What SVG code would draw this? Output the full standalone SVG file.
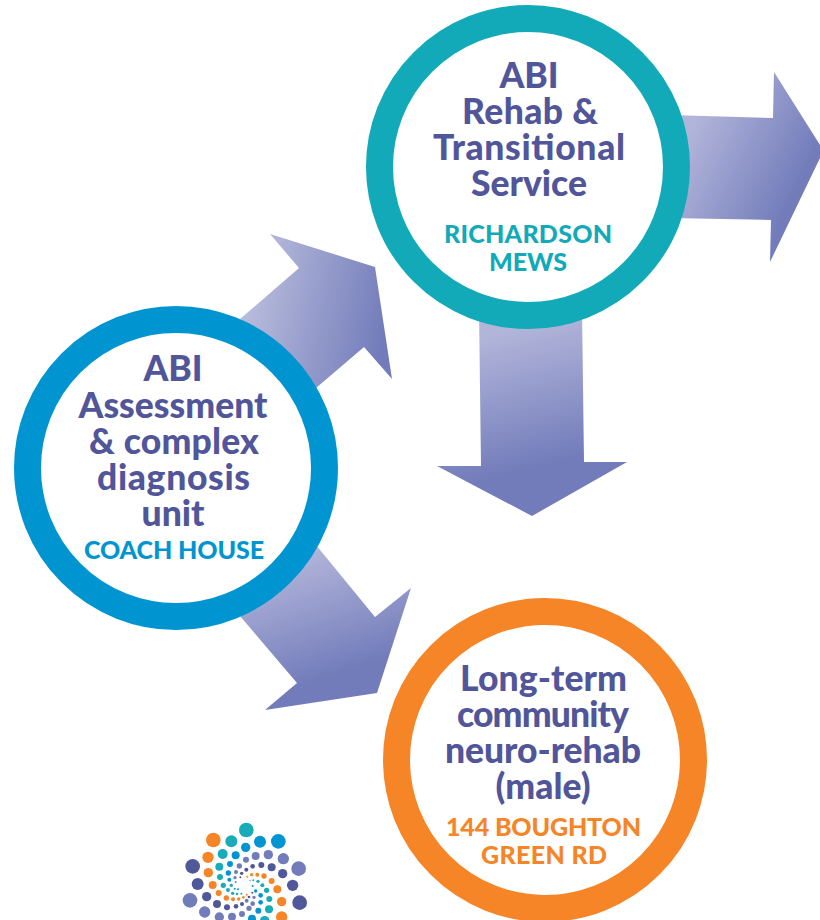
<svg xmlns="http://www.w3.org/2000/svg" width="820" height="920" viewBox="0 0 820 920">
<style>
.ring{fill:#fff;stroke-width:27}
text{font-family:"Lato","Open Sans","Liberation Sans",sans-serif;font-weight:900;text-anchor:middle}
.t{font-size:35.5px;fill:#51559a}
.s{font-size:25px}
.a{fill:#1aabb8}.b{fill:#0095d1}.o{fill:#f68528}.d{fill:#51589a}.l{fill:#727cba}
</style>
<defs>
<linearGradient id="gr" gradientUnits="userSpaceOnUse" x1="690" y1="130" x2="800" y2="185"><stop offset="0" stop-color="#b2b5da"/><stop offset="1" stop-color="#727cba"/></linearGradient>
<linearGradient id="gd" gradientUnits="userSpaceOnUse" x1="510" y1="330" x2="545" y2="465"><stop offset="0" stop-color="#b2b5da"/><stop offset="1" stop-color="#727cba"/></linearGradient>
<linearGradient id="gu" gradientUnits="userSpaceOnUse" x1="240" y1="300" x2="385" y2="330"><stop offset="0" stop-color="#bcbfde"/><stop offset="1" stop-color="#727cba"/></linearGradient>
<linearGradient id="gb" gradientUnits="userSpaceOnUse" x1="295" y1="555" x2="335" y2="675"><stop offset="0" stop-color="#b2b5da"/><stop offset="1" stop-color="#727cba"/></linearGradient>
</defs>
<g id="connectors">
<polygon fill="url(#gr)" points="670,115 773,118 774,72 820,145 820,158 770,262 771,220 670,218"/>
<polygon fill="url(#gd)" points="479,310 582,310 584,462 627,462 532,516 437,466 481,466"/>
<polygon fill="url(#gu)" points="240,319 299,268 270,234 375,267 392,379 364,347 316,388"/>
<polygon fill="url(#gb)" points="316,545 375,617 411,588 377,693 265,710 297,683 240,616"/>
</g>
<g id="node-rehab">
<circle class="ring" cx="528" cy="167" r="148.5" stroke="#12aab8"/>
<text class="t" x="529" y="88">ABI</text>
<text class="t" x="530" y="124" textLength="136">Rehab &amp;</text>
<text class="t" x="529" y="160" textLength="192">Transitional</text>
<text class="t" x="529" y="196">Service</text>
<text class="s" x="528" y="243" fill="#12aab8" textLength="168">RICHARDSON</text>
<text class="s" x="528" y="271" fill="#12aab8">MEWS</text>
</g>
<g id="node-assessment">
<circle class="ring" cx="176" cy="468" r="148.5" stroke="#0095d1"/>
<text class="t" x="173" y="381">ABI</text>
<text class="t" x="173" y="418">Assessment</text>
<text class="t" x="174" y="454" textLength="170">&amp; complex</text>
<text class="t" x="173.500" y="490" textLength="153">diagnosis</text>
<text class="t" x="173" y="526">unit</text>
<text class="s" x="174" y="559" fill="#0095d1" textLength="180">COACH HOUSE</text>
</g>
<g id="node-longterm">
<circle class="ring" cx="545" cy="760" r="148.5" stroke="#f68528"/>
<text class="t" x="543.500" y="691" textLength="167">Long-term</text>
<text class="t" x="543" y="727" textLength="172">community</text>
<text class="t" x="543" y="763" textLength="196">neuro-rehab</text>
<text class="t" x="543" y="799">(male)</text>
<text class="s" x="543.500" y="836" fill="#f68528" textLength="195">144 BOUGHTON</text>
<text class="s" x="544" y="864" fill="#f68528" textLength="126">GREEN RD</text>
</g>
<g id="logo" transform="translate(170 810) scale(.3333)">
<circle class="a" cx="229" cy="60" r="22"/><circle class="o" cx="130" cy="90" r="22"/><circle class="a" cx="184" cy="94" r="18"/><circle class="b" cx="270" cy="95" r="18"/><circle class="b" cx="325" cy="94" r="22"/><circle class="b" cx="227" cy="112" r="14"/><circle class="a" cx="158" cy="132" r="15"/><circle class="o" cx="114" cy="142" r="17"/><circle class="b" cx="197" cy="136" r="12"/><circle class="l" cx="257" cy="138" r="12"/><circle class="l" cx="295" cy="134" r="14"/><circle class="l" cx="340" cy="146" r="17"/><circle class="d" cx="68" cy="169" r="22"/><circle class="a" cx="148" cy="170" r="12"/><circle class="b" cx="180" cy="162" r="9"/><circle class="l" cx="228" cy="149" r="9"/><circle class="l" cx="208" cy="168" r="8"/><circle class="d" cx="274" cy="165" r="9"/><circle class="d" cx="305" cy="172" r="12"/><circle class="l" cx="386" cy="176" r="22"/><circle class="o" cx="115" cy="188" r="14"/><circle class="d" cx="338" cy="191" r="14"/><circle class="b" cx="175" cy="189" r="8"/><circle class="d" cx="248" cy="169" r="7"/><circle class="d" cx="229" cy="179" r="6"/><circle class="l" cx="198" cy="186" r="6"/><circle class="d" cx="215" cy="190" r="5"/><circle class="o" cx="245" cy="194" r="5"/><circle class="o" cx="262" cy="194" r="6"/><circle class="o" cx="282" cy="198" r="8"/><circle class="o" cx="305" cy="213" r="9"/><circle class="a" cx="150" cy="201" r="9"/><circle class="b" cx="178" cy="209" r="6"/><circle class="l" cx="195" cy="203" r="5"/><circle class="d" cx="211" cy="202" r="3"/><circle class="o" cx="232" cy="200" r="3"/><circle class="d" cx="83" cy="222" r="18"/><circle class="d" cx="368" cy="226" r="17"/><circle class="o" cx="128" cy="225" r="12"/><circle class="a" cx="160" cy="226" r="8"/><circle class="a" cx="184" cy="226" r="5"/><circle class="l" cx="197" cy="216" r="3"/><circle class="o" cx="322" cy="238" r="12"/><circle class="a" cx="290" cy="241" r="8"/><circle class="a" cx="277" cy="226" r="6"/><circle class="a" cx="264" cy="214" r="5"/><circle class="a" cx="250" cy="211" r="3"/><circle class="a" cx="240" cy="212" r="2"/><circle class="o" cx="146" cy="249" r="9"/><circle class="a" cx="174" cy="240" r="6"/><circle class="a" cx="188" cy="250" r="5"/><circle class="b" cx="194" cy="236" r="3"/><circle class="b" cx="204" cy="238" r="3"/><circle class="a" cx="201" cy="252" r="4"/><circle class="a" cx="214" cy="251" r="3"/><circle class="a" cx="298" cy="267" r="9"/><circle class="b" cx="272" cy="256" r="7"/><circle class="b" cx="257" cy="243" r="5"/><circle class="b" cx="248" cy="228" r="3"/><circle class="l" cx="60" cy="271" r="22"/><circle class="d" cx="110" cy="260" r="14"/><circle class="o" cx="169" cy="264" r="8"/><circle class="o" cx="189" cy="268" r="6"/><circle class="o" cx="206" cy="267" r="5"/><circle class="o" cx="220" cy="262" r="4"/><circle class="o" cx="230" cy="254" r="3"/><circle class="d" cx="237" cy="261" r="4"/><circle class="l" cx="252" cy="262" r="5"/><circle class="d" cx="247" cy="248" r="3"/><circle class="b" cx="272" cy="277" r="7"/><circle class="o" cx="335" cy="275" r="14"/><circle class="d" cx="389" cy="278" r="22"/><circle class="d" cx="141" cy="282" r="12"/><circle class="d" cx="171" cy="292" r="9"/><circle class="d" cx="198" cy="289" r="7"/><circle class="d" cx="216" cy="282" r="6"/><circle class="l" cx="230" cy="272" r="6"/><circle class="l" cx="248" cy="281" r="7"/><circle class="l" cx="237" cy="295" r="8"/><circle class="b" cx="265" cy="302" r="9"/><circle class="a" cx="297" cy="298" r="12"/><circle class="l" cx="104" cy="306" r="17"/><circle class="l" cx="216" cy="312" r="9"/><circle class="l" cx="186" cy="320" r="12"/><circle class="l" cx="148" cy="321" r="14"/><circle class="b" cx="246" cy="326" r="12"/><circle class="a" cx="284" cy="332" r="14"/><circle class="o" cx="335" cy="321" r="17"/>
</g>
</svg>
